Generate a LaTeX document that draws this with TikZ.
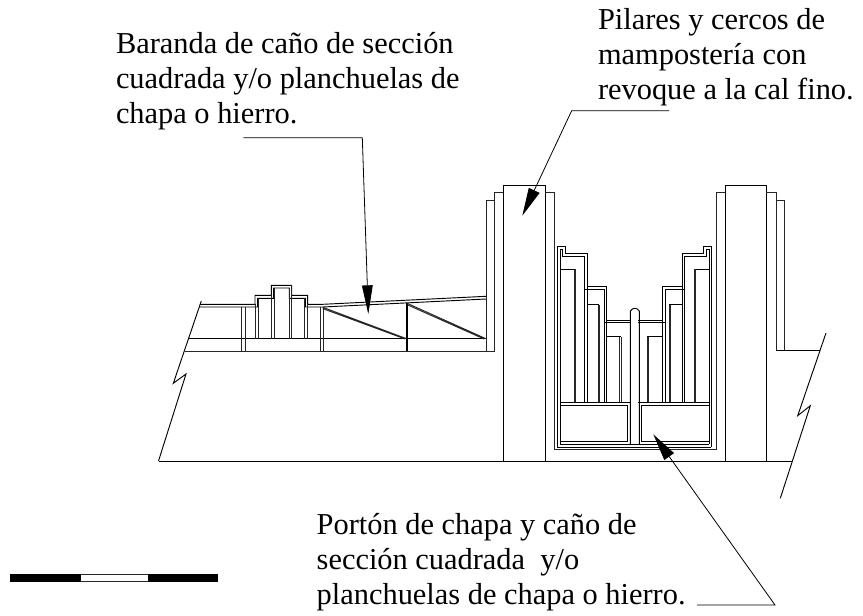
\documentclass[tikz,border=0pt]{standalone}
\usepackage{fontspec}
\setmainfont{Liberation Serif}
\usetikzlibrary{arrows.meta}
\tikzset{
  ln/.style={draw=black,line width=0.7pt,line join=miter},
  fine/.style={draw=black!85,line width=0.65pt},
  lead/.style={draw=black,line width=0.6pt},
  lbl/.style={inner sep=0pt,outer sep=0pt,align=left,anchor=north west,font=\fontsize{22.8}{26.3}\selectfont},
}
\begin{document}
\begin{tikzpicture}[x=0.75pt,y=-0.75pt]
\useasboundingbox (0,0) rectangle (863,615);
% zigzags and base
\draw[ln] (201.3,301) -- (173.3,383.3) -- (186,374) -- (158.5,461);
\draw[ln] (826,333) -- (797.7,415.7) -- (810.3,405.7) -- (780.3,498.3);
\draw[ln] (158.5,461) -- (792,461);
% pillars
\draw[ln] (503.3,461) -- (503.3,185.3) -- (545,185.3) -- (545,461);
\draw[ln] (725.3,461) -- (725.3,185.3) -- (766.3,185.3) -- (766.3,461);
% pillar steps
\draw[fine] (503.3,192.7) -- (494,192.7) -- (494,351) -- (184.7,351);
\draw[fine] (494,200) -- (486,200) -- (486,351);
\draw[fine] (545,192.7) -- (554.3,192.7) -- (554.3,449.3) -- (716,449.3) -- (716,192.3) -- (725.3,192.3);
\draw[fine] (766.3,192.3) -- (776,192.3) -- (776,350.7);
\draw[fine] (776,200) -- (784.3,200) -- (784.3,350.7);
\draw[ln] (776,350.7) -- (820,350.7);
% railing
\draw[ln] (199.8,304.3) -- (255,304.3) -- (255,295.3) -- (271.3,295.3) -- (271.3,285.3) -- (291.7,285.3) -- (291.7,295.3) -- (307.7,295.3) -- (307.7,304.3) -- (322.7,304.3) -- (486,296.3);
\draw[ln] (199,307) -- (257.5,307) -- (257.5,298.3) -- (273.7,298.3) -- (273.7,288) -- (289.3,288) -- (289.3,298.3) -- (305.3,298.3) -- (305.3,307) -- (322.7,307) -- (486,299);
\draw[ln] (188.3,338.7) -- (486,338.7);
\draw[fine] (241.7,307) -- (241.7,351) (245,307) -- (245,351);
\draw[fine] (255,304.3) -- (255,338.7) (258.3,298.3) -- (258.3,338.7);
\draw[fine] (271.7,295.3) -- (271.7,338.7) (274,288) -- (274,338.7);
\draw[fine] (289.3,288) -- (289.3,338.7) (291.7,285.3) -- (291.7,338.7);
\draw[fine] (304.7,298.3) -- (304.7,338.7) (307.3,304.3) -- (307.3,338.7);
\draw[fine] (320,307) -- (320,351) (323.3,307) -- (323.3,351);
\draw[ln,line width=0.9pt] (407,303.3) -- (407,351);
\draw[fine] (322.7,307.2) -- (406.7,338.7) (322.7,308.6) -- (405,339);
\draw[fine] (407.3,303.3) -- (486,338.7) (407.3,304.8) -- (484,339);
% gate outline, left
\draw[ln] (557.3,447) -- (557.3,246.3) -- (565.3,246.3) -- (565.3,253.3) -- (587,253.3) -- (587,286.7) -- (606.7,286.7) -- (606.7,320) -- (630.3,320);
\draw[ln] (560,444.3) -- (560,249) -- (562.7,249) -- (562.7,256) -- (584.3,256) -- (584.3,289.3) -- (604,289.3) -- (604,322.7) -- (630.3,322.7);
% gate outline, right
\draw[ln] (711.3,447) -- (711.3,246.3) -- (703.7,246.3) -- (703.7,253.3) -- (682,253.3) -- (682,286.7) -- (662.3,286.7) -- (662.3,320) -- (637.7,320);
\draw[ln] (709,444.3) -- (709,249) -- (706.3,249) -- (706.3,256) -- (684.7,256) -- (684.7,289.3) -- (665,289.3) -- (665,322.7) -- (637.7,322.7);
% gate bottom
\draw[ln] (557.3,447) -- (711.3,447);
\draw[ln] (560,444.3) -- (709,444.3);
% post
\draw[ln] (630.3,444.3) -- (630.3,311) .. controls (632,309) and (633,308.3) .. (634.8,308.3) .. controls (636.6,308.3) and (637.6,309) .. (639.3,311) -- (639.3,444.3);
% rails and panels
\draw[ln] (560,402.3) -- (630.3,402.3) (637.7,402.3) -- (709.7,402.3);
\draw[ln] (560,405.7) rectangle (627.7,441.3);
\draw[ln] (641,405.7) rectangle (709,441.3);
% bars, left
\draw[ln] (560,269.3) -- (575.3,269.3);
\draw[fine] (574,269.3) -- (574,402.3) (575.3,269.3) -- (575.3,402.3);
\draw[ln] (584.3,289.3) -- (584.3,402.3);
\draw[ln] (587,286.7) -- (587,402.3);
\draw[ln] (587,304.7) -- (599.3,304.7);
\draw[fine] (598,304.7) -- (598,402.3) (599.3,304.7) -- (599.3,402.3);
\draw[ln] (604,322.7) -- (604,402.3);
\draw[ln] (606.7,320) -- (606.7,402.3);
\draw[ln] (606.7,336.7) -- (621,336.7);
\draw[fine] (619.7,336.7) -- (619.7,402.3) (621,336.7) -- (621,402.3);
% bars, right
\draw[ln] (647.3,336.7) -- (662.3,336.7);
\draw[fine] (647.3,336.7) -- (647.3,402.3) (648.6,336.7) -- (648.6,402.3);
\draw[ln] (662.3,320) -- (662.3,402.3);
\draw[ln] (665,322.7) -- (665,402.3);
\draw[ln] (669.3,304.7) -- (682,304.7);
\draw[fine] (669.3,304.7) -- (669.3,402.3) (670.6,304.7) -- (670.6,402.3);
\draw[ln] (682,286.7) -- (682,402.3);
\draw[ln] (684.7,289.3) -- (684.7,402.3);
\draw[ln] (694.3,269.3) -- (708.7,269.3);
\draw[fine] (694.3,269.3) -- (694.3,402.3) (695.6,269.3) -- (695.6,402.3);
% scale bar
\fill[black] (10.3,574.3) rectangle (81,582.3);
\fill[black] (148,574.3) rectangle (218.3,582.3);
\draw[fine] (81,574.8) -- (148,574.8) (81,581.8) -- (148,581.8);
% labels
\node[lbl] (baranda) at (116,32) {Baranda de caño de sección\\cuadrada y/o planchuelas de\\chapa o hierro.};
\node[lbl] (pilares) at (598,8) {Pilares y cercos de\\mampostería con\\revoque a la cal fino.};
\node[lbl] (porton) at (316.7,513) {Portón de chapa y caño de\\sección cuadrada\ \ y/o\\planchuelas de chapa o hierro.};
% leaders
\coordinate (a1s) at (243.3,137.7);
\coordinate (a1c) at (362.3,137.7);
\coordinate (a1t) at (368.3,314);
\coordinate (a2s) at (669,110.7);
\coordinate (a2c) at (571.7,110.7);
\coordinate (a2t) at (522.3,215.7);
\coordinate (a3s) at (697,605);
\coordinate (a3c) at (775,605);
\coordinate (a3t) at (653.3,434.3);
\draw[lead,-{Triangle[length=21.5pt,width=8pt]}] (a1s) -- (a1c) -- (a1t);
\draw[lead,-{Triangle[length=21pt,width=8.8pt]}] (a2s) -- (a2c) -- (a2t);
\draw[lead,-{Triangle[length=20.5pt,width=8.8pt]}] (a3s) -- (a3c) -- (a3t);
\end{tikzpicture}
\end{document}
